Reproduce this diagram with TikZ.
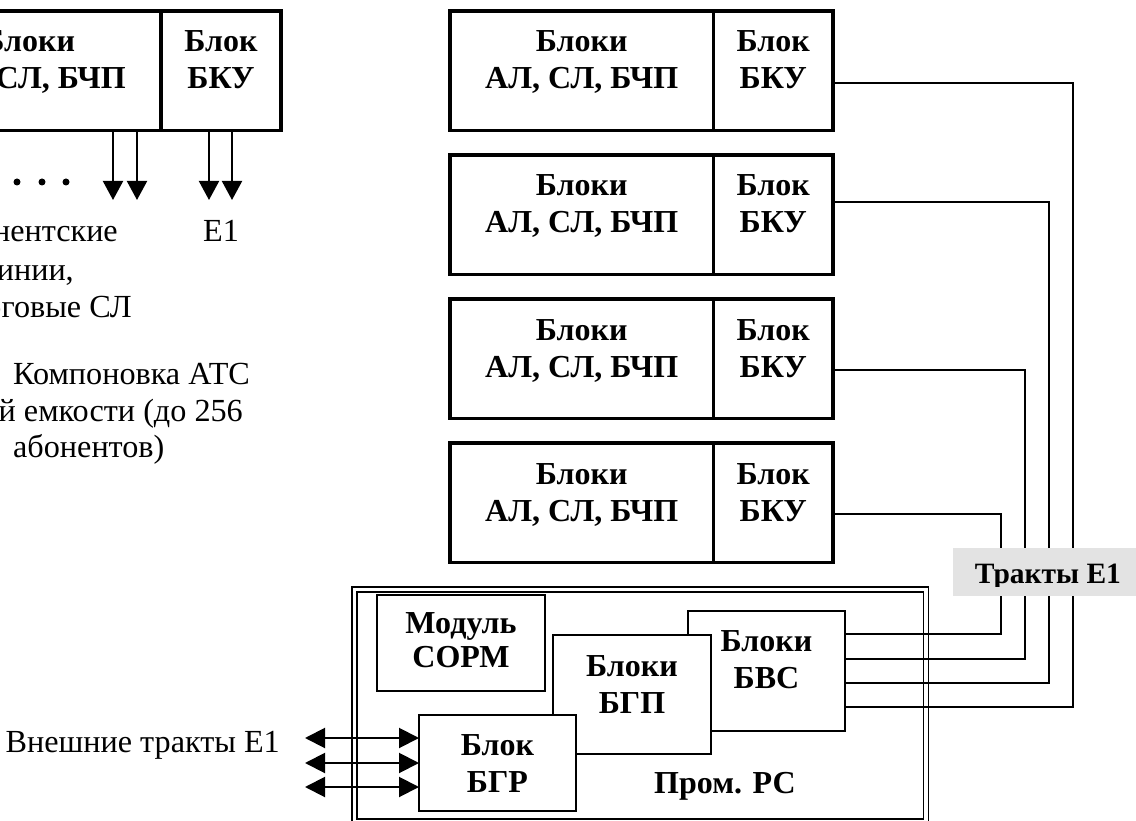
\documentclass[tikz,border=0pt]{standalone}
\usepackage{fontspec}
\setmainfont{Liberation Serif}
\usetikzlibrary{arrows.meta}
\definecolor{lbgray}{RGB}{227,227,227}
\begin{document}
\begin{tikzpicture}[x=1pt,y=-1pt,
  thickbox/.style={draw, line width=3.6pt, inner sep=0pt, outer sep=0pt, anchor=north west, minimum height=119.5pt},
  thinbox/.style={draw, line width=2pt, fill=white, inner sep=0pt, outer sep=0pt, anchor=north west},
  frame/.style={draw, line width=1.8pt, double=white, double distance=3.2pt, inner sep=0pt, outer sep=0pt, anchor=north west},
  blbl/.style={font=\fontsize{32}{37}\selectfont\bfseries, align=center, anchor=base, inner sep=0pt},
  rlbl/.style={font=\fontsize{32.2}{37}\selectfont, inner sep=0pt},
  wire/.style={line width=1.5pt},
  arr/.style={line width=2pt, -{Triangle[length=19pt,width=20pt]}},
  darr/.style={line width=2pt, {Triangle[length=20pt,width=20pt]}-{Triangle[length=20pt,width=20pt]}},
]
\useasboundingbox (0,0) rectangle (1136,821);
\clip (0,0) rectangle (1136,821);

% ---- top-left unit (cut off at left)
\node[thickbox, minimum width=263.5pt] (als0) at (-102.5,11) {};
\node[thickbox, minimum width=120pt] (bku0) at (161,11) {};
\node[blbl] (als0t) at ([yshift=-78pt]als0.north) {Блоки\\АЛ, СЛ, БЧП};
\node[blbl] (bku0t) at ([yshift=-78pt]bku0.north) {Блок\\БКУ};
\coordinate (a1) at (113,200);
\coordinate (a2) at (137,200);
\coordinate (a3) at (209,200);
\coordinate (a4) at (232,200);
\draw[arr] ([xshift=-48pt]als0.south east) -- (a1);
\draw[arr] ([xshift=-24pt]als0.south east) -- (a2);
\draw[arr] ([xshift=48pt]bku0.south west) -- (a3);
\draw[arr] ([xshift=71pt]bku0.south west) -- (a4);
\fill (17,182) circle (3.5pt) (42,182) circle (3.5pt) (66,182) circle (3.5pt);
\node[rlbl, anchor=base east] (ab1) at (118,242) {Абонентские};
\node[rlbl, anchor=base east] (ab2) at (74,280) {линии,};
\node[rlbl, anchor=base east] (ab3) at (132,317) {аналоговые СЛ};
\node[rlbl, anchor=base] (e1lbl) at (221,242) {E1};
\node[rlbl, anchor=base west] (cap1) at (13,384) {Компоновка АТС};
\node[rlbl, anchor=base east] (cap2) at (243,421) {малой емкости (до 256};
\node[rlbl, anchor=base west] (cap3) at (13,457) {абонентов)};

% ---- four units on the right
\foreach \i/\t in {1/11,2/155,3/299,4/443}{
  \node[thickbox, minimum width=263.5pt] (als\i) at (450,\t) {};
  \node[thickbox, minimum width=119.5pt] (bku\i) at (713.5,\t) {};
  \node[blbl] (als\i t) at ([yshift=-78pt]als\i.north) {Блоки\\АЛ, СЛ, БЧП};
  \node[blbl] (bku\i t) at ([yshift=-78pt]bku\i.north) {Блок\\БКУ};
}

% ---- Пром. РС
\node[frame, minimum width=571.5pt, minimum height=232pt] (pc) at (354.5,589.5) {};
\node[thinbox, minimum width=168pt, minimum height=96pt] (sorm) at (377,595) {};
\node[blbl] (sormt) at ([yshift=-72pt]sorm.north) {Модуль\\[-3pt]СОРМ};
\node[thinbox, minimum width=157pt, minimum height=120pt] (bvs) at (688,611) {};
\node[blbl] (bvst) at ([yshift=-77pt]bvs.north) {Блоки\\БВС};
\node[thinbox, minimum width=158pt, minimum height=119pt] (bgp) at (553,635) {};
\node[blbl] (bgpt) at ([yshift=-78pt]bgp.north) {Блоки\\БГП};
\node[thinbox, minimum width=157pt, minimum height=96pt] (bgr) at (419,715) {};
\node[blbl] (bgrt) at ([yshift=-77pt]bgr.north) {Блок\\БГР};
\node[blbl] (pcname) at (725,793) {Пром. РС};

% ---- E1 trunks
\coordinate (t1) at (1073,572);
\coordinate (t2) at (1049,572);
\coordinate (t3) at (1025,572);
\coordinate (t4) at (1001,572);
\draw[wire] ([yshift=-12.25pt]bku1.east) -| (t1) |- ([yshift=-36pt]bvs.east);
\draw[wire] ([yshift=12.75pt]bku2.east) -| (t2) |- ([yshift=-12pt]bvs.east);
\draw[wire] ([yshift=-11.25pt]bku3.east) -| (t3) |- ([yshift=12pt]bvs.east);
\draw[wire] ([yshift=-11.25pt]bku4.east) -| (t4) |- ([yshift=37pt]bvs.east);

\node[fill=lbgray, anchor=north west, minimum width=190pt, minimum height=48pt, inner sep=0pt, outer sep=0pt] (tr) at (953,548) {};
\begin{scope}
  \clip (953,540) rectangle (1136,586);
  \node[blbl, font=\fontsize{29.5}{35}\selectfont\bfseries] (trt) at (1048,583) {Тракты E1};
\end{scope}

% ---- external trunks
\coordinate (e1) at (305,738);
\coordinate (e2) at (305,763);
\coordinate (e3) at (305,787);
\draw[darr] (e1) -- ([yshift=25pt]bgr.west);
\draw[darr] (e2) -- (bgr.west);
\draw[darr] (e3) -- ([yshift=-24pt]bgr.west);
\node[rlbl, anchor=base east] (ext) at (280,752) {Внешние тракты E1};
\end{tikzpicture}
\end{document}
